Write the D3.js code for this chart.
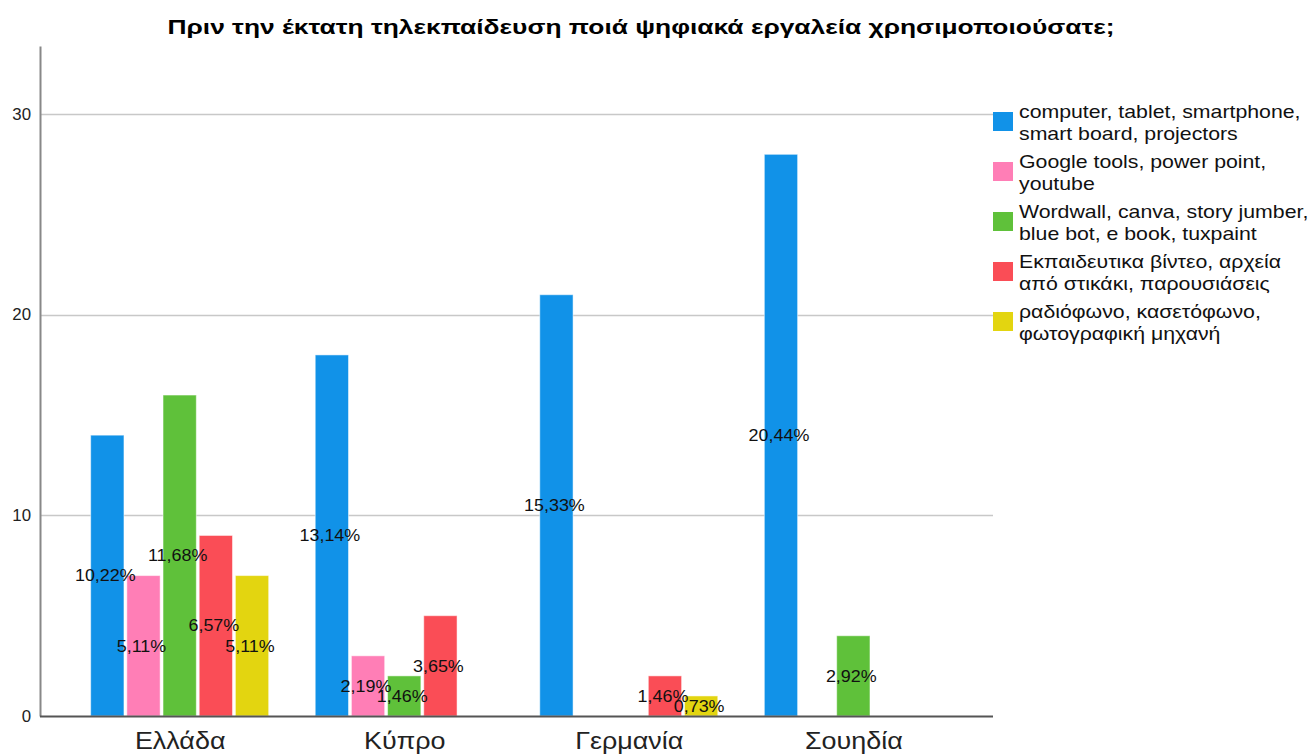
<!DOCTYPE html>
<html>
<head>
<meta charset="utf-8">
<script src="https://cdn.jsdelivr.net/npm/d3@7"></script>
<style>
  html, body { margin: 0; padding: 0; background: #fff; }
  svg { display: block; font-family: "Liberation Sans", Arial, sans-serif; }
</style>
</head>
<body>
<svg id="chart" width="1316" height="756"></svg>
<script>
const title = "Πριν την έκτατη τηλεκπαίδευση ποιά ψηφιακά εργαλεία χρησιμοποιούσατε;";
const countries = ["Ελλάδα", "Κύπρο", "Γερμανία", "Σουηδία"];
const seriesNames = [
  ["computer, tablet, smartphone,", "smart board, projectors"],
  ["Google tools, power point,", "youtube"],
  ["Wordwall, canva, story jumber,", "blue bot, e book, tuxpaint"],
  ["Εκπαιδευτικα βίντεο, αρχεία", "από στικάκι, παρουσιάσεις"],
  ["ραδιόφωνο, κασετόφωνο,", "φωτογραφική μηχανή"]
];
const seriesColors = ["#1192e8", "#ff7eb6", "#5fc13a", "#fa4d56", "#e3d510"];
// counts per series, one value per country
const computerTablet = [14, 18, 21, 28];
const googleTools    = [7, 3, 0, 0];
const wordwall       = [16, 2, 0, 4];
const videos         = [9, 5, 2, 0];
const radio          = [7, 0, 1, 0];
const seriesValues = [computerTablet, googleTools, wordwall, videos, radio];
const yTicks = [0, 10, 20, 30];
const total = 137;

const svg = d3.select("#chart");
const plotLeft = 40, plotRight = 993, plotTop = 46, plotBottom = 716;

// horizontally stretch text like the original renderer
function stretch(sel, f) {
  sel.each(function() {
    const len = this.getComputedTextLength();
    d3.select(this).attr("textLength", len * f).attr("lengthAdjust", "spacingAndGlyphs");
  });
}

const y = d3.scaleLinear().domain([0, 33.4]).range([plotBottom, plotTop]);
const x0 = d3.scalePoint().domain(countries).range([plotLeft, plotRight]).padding(0.622);
const x1 = d3.scaleBand().domain(d3.range(5)).range([-89, 89]).paddingInner(0.08);

// title
const t = svg.append("text").attr("x", 641).attr("y", 34).attr("text-anchor", "middle")
  .attr("font-size", 20).attr("font-weight", "bold").attr("fill", "#000").text(title);
stretch(t, 1.0);
t.attr("textLength", 947);

// gridlines
svg.append("g").selectAll("line").data(yTicks.filter(d => d > 0)).join("line")
  .attr("x1", plotLeft).attr("x2", plotRight).attr("y1", d => Math.round(y(d)) + 0.5).attr("y2", d => Math.round(y(d)) + 0.5)
  .attr("stroke", "#c8c8c8").attr("stroke-width", 1.5);

// y axis
const yAxis = d3.axisLeft(y).tickValues(yTicks).tickSize(0).tickPadding(9);
const gy = svg.append("g").attr("transform", `translate(${plotLeft},0)`).call(yAxis);
gy.select(".domain").attr("stroke", "#888").attr("stroke-width", 2);
gy.selectAll("text").attr("font-size", 16).attr("fill", "#222").attr("font-family", "Liberation Sans, Arial, sans-serif");
stretch(gy.selectAll("text"), 1.05);

// bars
const data = [];
countries.forEach((c, ci) => seriesValues.forEach((vals, si) => data.push({c, si, v: vals[ci]})));
const bars = data.filter(d => d.v > 0);
svg.append("g").selectAll("rect").data(bars).join("rect")
  .attr("x", d => x0(d.c) + x1(d.si))
  .attr("y", d => y(d.v))
  .attr("width", x1.bandwidth())
  .attr("height", d => y(0) - y(d.v))
  .attr("fill", d => seriesColors[d.si])
  .attr("stroke", "rgba(255,255,255,0.5)").attr("stroke-width", 1);

// x axis
const xAxis = d3.axisBottom(x0).tickSize(0).tickPadding(17);
const gx = svg.append("g").attr("transform", `translate(0,${plotBottom})`).call(xAxis);
gx.select(".domain").remove();
svg.append("line").attr("x1", plotLeft).attr("x2", plotRight).attr("y1", plotBottom + 0.5).attr("y2", plotBottom + 0.5)
  .attr("stroke", "#555").attr("stroke-width", 2);
gx.selectAll("text").attr("font-size", 23).attr("fill", "#222").attr("font-family", "Liberation Sans, Arial, sans-serif")
  .attr("dy", "0.71em");
stretch(gx.selectAll("text"), 1.17);

// value labels
const fmt = v => (v / total * 100).toFixed(2).replace(".", ",") + "%";
const labels = svg.append("g").selectAll("text").data(bars).join("text")
  .attr("x", d => x0(d.c) + x1(d.si) + x1.bandwidth() / 2 - 2)
  .attr("y", d => (y(d.v) + y(0)) / 2)
  .attr("dy", "0.36em")
  .attr("text-anchor", "middle")
  .attr("font-size", 16).attr("fill", "#111")
  .text(d => fmt(d.v));
stretch(labels, 1.12);

// legend
const lg = svg.append("g").attr("transform", "translate(993,112)");
seriesNames.forEach((lines, i) => {
  const g = lg.append("g").attr("transform", `translate(0,${i * 50})`);
  g.append("rect").attr("x", 0).attr("y", 0).attr("width", 20).attr("height", 19).attr("fill", seriesColors[i]);
  lines.forEach((tx, j) => {
    const el = g.append("text").attr("x", 26).attr("y", 6 + j * 22).attr("font-size", 18.5)
      .attr("fill", "#111").text(tx);
    stretch(el, 1.15);
  });
});
</script>
</body>
</html>
